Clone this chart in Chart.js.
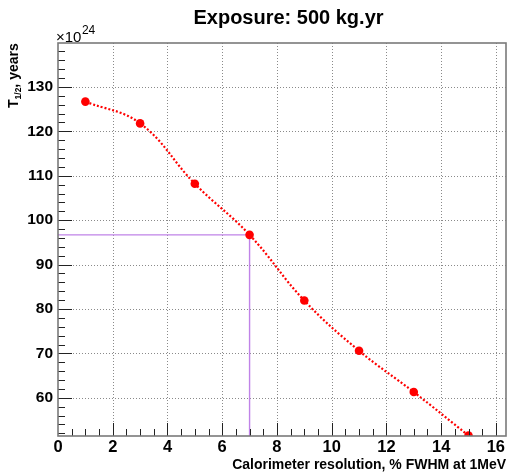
<!DOCTYPE html>
<html><head><meta charset="utf-8">
<script src="https://cdn.jsdelivr.net/npm/chart.js@4"></script>
<style>html,body{margin:0;padding:0;background:#fff;overflow:hidden}</style>
</head><body>
<canvas id="c" width="507" height="473" style="width:507px;height:473px;display:block"></canvas>
<script>
// ---- data ----
const resolution = [1, 3, 5, 7, 9, 11, 13, 15];            // % FWHM at 1 MeV
const halfLife   = [126.7, 121.8, 108.2, 96.7, 81.9, 70.6, 61.3, 51.5]; // x10^24 years
const xTickValues = [0, 2, 4, 6, 8, 10, 12, 14, 16];
const yTickValues = [60, 70, 80, 90, 100, 110, 120, 130];
const markerX = 7;
const markerY = 96.7;
const xRange = [0, 16.37];
const yRange = [51.4, 139.9];

const FONT = '"Liberation Sans", Arial, Helvetica, sans-serif';

const decor = {
  id: 'decor',
  beforeDatasetsDraw(chart) {
    const {ctx, chartArea: a, scales: {x, y}} = chart;
    ctx.save();
    ctx.strokeStyle = '#8a8a8a';
    ctx.lineWidth = 1;
    ctx.setLineDash([1, 2]);
    for (const v of xTickValues) {
      if (v <= xRange[0]) continue;
      const px = Math.round(x.getPixelForValue(v)) + 0.5;
      ctx.beginPath(); ctx.moveTo(px, a.top); ctx.lineTo(px, a.bottom); ctx.stroke();
    }
    for (const v of yTickValues) {
      const py = Math.round(y.getPixelForValue(v)) + 0.5;
      ctx.beginPath(); ctx.moveTo(a.left, py); ctx.lineTo(a.right, py); ctx.stroke();
    }
    ctx.setLineDash([]);
    ctx.restore();
  },
  afterDraw(chart) {
    const {ctx, chartArea: a, scales: {x, y}} = chart;
    ctx.save();
    ctx.strokeStyle = '#222';
    ctx.lineWidth = 1;
    for (let v = 0.5; v < xRange[1]; v += 0.5) {
      const major = Math.abs(v / 2 - Math.round(v / 2)) < 1e-6;
      const px = Math.round(x.getPixelForValue(v)) + 0.5;
      ctx.beginPath(); ctx.moveTo(px, a.bottom); ctx.lineTo(px, a.bottom - (major ? 13 : 7)); ctx.stroke();
    }
    for (let v = 52; v < yRange[1]; v += 2) {
      const major = v % 10 === 0;
      const py = Math.round(y.getPixelForValue(v)) + 0.5;
      ctx.beginPath(); ctx.moveTo(a.left, py); ctx.lineTo(a.left + (major ? 14 : 7), py); ctx.stroke();
    }
    ctx.strokeStyle = '#7a7a7a';
    ctx.lineWidth = 1.6;
    ctx.strokeRect(a.left, a.top, a.right - a.left, a.bottom - a.top);

    ctx.fillStyle = '#000';
    ctx.font = 'bold 20px ' + FONT;
    ctx.textAlign = 'center';
    ctx.textBaseline = 'alphabetic';
    ctx.fillText('Exposure: 500 kg.yr', 288.5, 23.5);
    ctx.font = 'bold 14px ' + FONT;
    ctx.textAlign = 'right';
    ctx.fillText('Calorimeter resolution, % FWHM at 1MeV', 506, 469);
    ctx.textAlign = 'left';
    ctx.font = '15px ' + FONT;
    ctx.fillText('\u00d710', 56, 41.5);
    const w10 = ctx.measureText('\u00d710').width;
    ctx.font = '12px ' + FONT;
    ctx.fillText('24', 56 + w10 + 0.5, 34);
    ctx.translate(18, 108);
    ctx.rotate(-Math.PI / 2);
    ctx.font = 'bold 14px ' + FONT;
    ctx.fillText('T', 0, 0);
    let off = ctx.measureText('T').width;
    ctx.font = 'bold 8.5px ' + FONT;
    ctx.fillText('1/2', off, 2.5);
    off += ctx.measureText('1/2').width;
    ctx.font = 'bold 14px ' + FONT;
    ctx.fillText(', years', off, 0);
    ctx.restore();
  }
};

new Chart(document.getElementById('c'), {
  type: 'scatter',
  data: {
    datasets: [
      {
        data: resolution.map((r, i) => ({x: r, y: halfLife[i]})),
        showLine: true,
        borderColor: '#ff0000',
        borderWidth: 2.2,
        borderDash: [2, 2],
        tension: 0.4,
        pointRadius: 4.3,
        pointBackgroundColor: '#ff0000',
        pointBorderWidth: 0,
        order: 1
      },
      {
        data: [{x: xRange[0], y: markerY}, {x: markerX, y: markerY}, {x: markerX, y: yRange[0]}],
        showLine: true,
        borderColor: '#c083e8',
        borderWidth: 1.4,
        pointRadius: 0,
        tension: 0,
        order: 2
      }
    ]
  },
  options: {
    responsive: false,
    animation: false,
    devicePixelRatio: 1,
    layout: {autoPadding: false, padding: {top: 43, right: 1, left: 0, bottom: 0}},
    plugins: {legend: {display: false}, tooltip: {enabled: false}, title: {display: false}},
    scales: {
      x: {
        type: 'linear', min: xRange[0], max: xRange[1],
        afterBuildTicks: s => { s.ticks = xTickValues.map(v => ({value: v})); },
        afterFit: s => { s.height = 37; s.paddingLeft = 0; s.paddingRight = 0; },
        grid: {display: false, drawTicks: false},
        border: {display: false},
        ticks: {color: '#000', font: {family: FONT, size: 16.5, weight: 'bold'}, padding: 2, maxRotation: 0, autoSkip: false}
      },
      y: {
        type: 'linear', min: yRange[0], max: yRange[1],
        afterBuildTicks: s => { s.ticks = yTickValues.map(v => ({value: v})); },
        afterFit: s => { s.width = 58; s.paddingTop = 0; s.paddingBottom = 0; },
        grid: {display: false, drawTicks: false},
        border: {display: false},
        ticks: {color: '#000', font: {family: FONT, size: 15.5, weight: 'bold'}, padding: 5, autoSkip: false}
      }
    }
  },
  plugins: [decor]
});
</script>
</body></html>
